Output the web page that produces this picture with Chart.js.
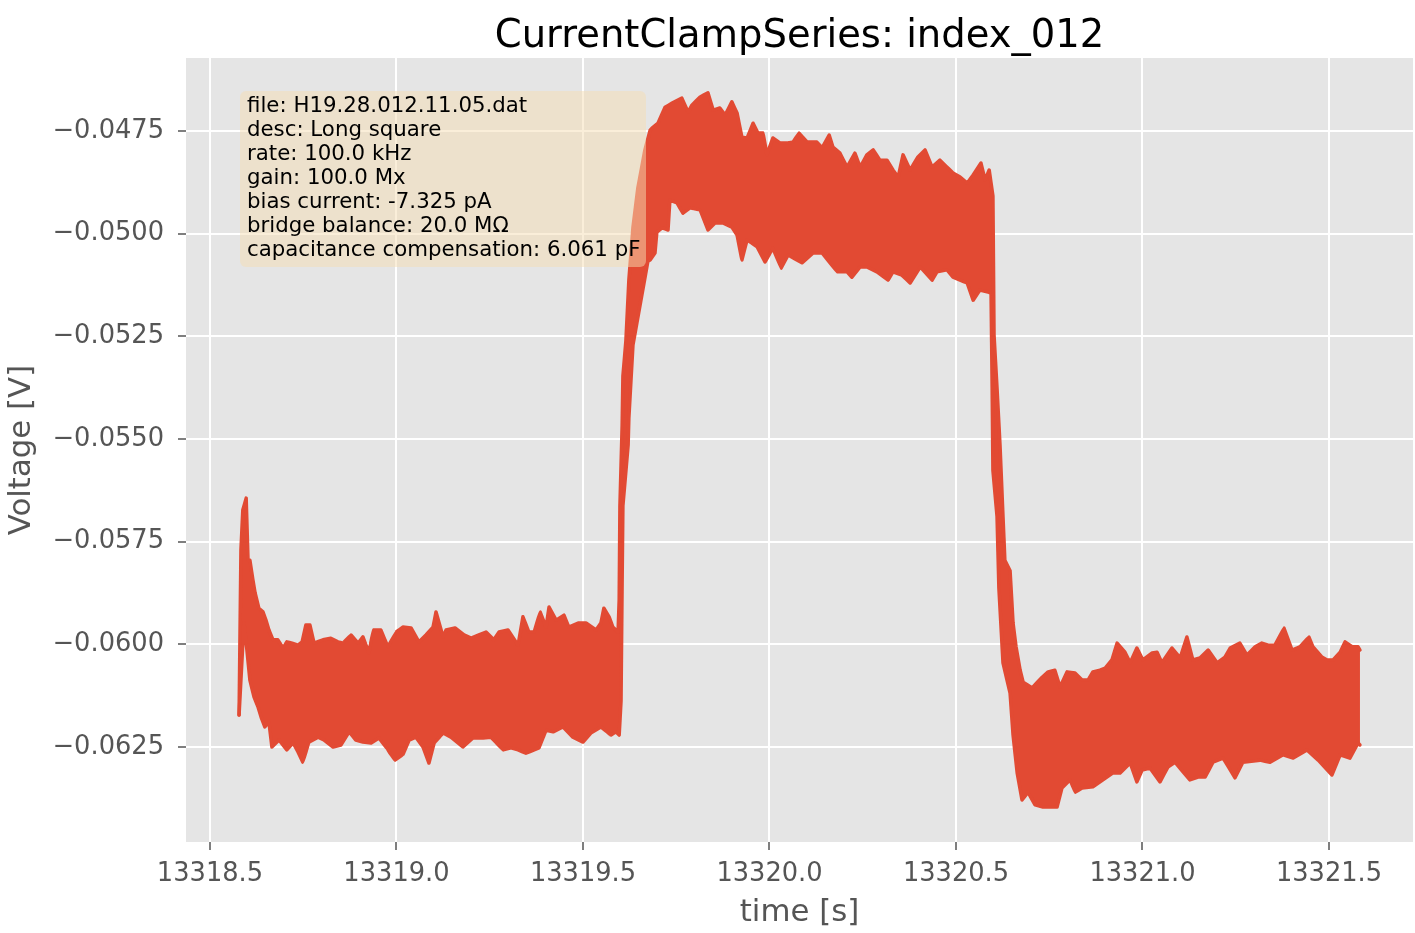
<!DOCTYPE html>
<html><head><meta charset="utf-8">
<script src="https://cdn.jsdelivr.net/npm/chart.js@4.4.1/dist/chart.umd.min.js"></script>
<style>html,body{margin:0;padding:0;background:#fff;} #wrap{width:1415px;height:933px;}</style>
</head><body><div id="wrap"><canvas id="c" width="1415" height="933"></canvas></div>
<script>
const titleText = 'CurrentClampSeries: index_012';
const xAxisLabel = 'time [s]';
const yAxisLabel = 'Voltage [V]';
const xTickValues = [13318.5, 13319.0, 13319.5, 13320.0, 13320.5, 13321.0, 13321.5];
const yTickValues = [-0.0625, -0.0600, -0.0575, -0.0550, -0.0525, -0.0500, -0.0475];
const xLimits = [13318.4357, 13321.7252];
const yLimits = [-0.064813, -0.045722];
const infoLines = [
  'file: H19.28.012.11.05.dat',
  'desc: Long square',
  'rate: 100.0 kHz',
  'gain: 100.0 Mx',
  'bias current: -7.325 pA',
  'bridge balance: 20.0 M\u03A9',
  'capacitance compensation: 6.061 pF'
];

// upper envelope of the voltage trace (time in s, voltage in V)
const timeUpper = [
13318.578,13318.583,13318.588,13318.597,13318.602,13318.607,13318.615,13318.621,13318.631,13318.642,
13318.650,13318.658,13318.669,13318.682,13318.696,13318.706,13318.720,13318.736,13318.747,13318.757,
13318.768,13318.779,13318.803,13318.824,13318.843,13318.857,13318.878,13318.897,13318.910,13318.926,
13318.937,13318.958,13318.977,13318.999,13319.017,13319.039,13319.060,13319.079,13319.098,13319.106,
13319.125,13319.133,13319.157,13319.181,13319.200,13319.221,13319.240,13319.261,13319.275,13319.299,
13319.326,13319.339,13319.355,13319.369,13319.385,13319.401,13319.409,13319.428,13319.449,13319.462,
13319.487,13319.508,13319.535,13319.548,13319.556,13319.570,13319.580,13319.594,
13319.597,13319.599,13319.605,13319.607,13319.615,13319.623,13319.634,13319.647,13319.666,13319.680,
13319.685,13319.701,13319.720,13319.739,13319.765,13319.782,13319.792,13319.814,13319.835,13319.849,
13319.867,13319.881,13319.899,13319.913,13319.926,13319.940,13319.956,13319.969,13319.983,13319.993,
13320.009,13320.028,13320.050,13320.063,13320.079,13320.101,13320.127,13320.141,13320.160,13320.170,
13320.189,13320.208,13320.229,13320.243,13320.261,13320.278,13320.296,13320.315,13320.331,13320.345,
13320.358,13320.377,13320.398,13320.417,13320.436,13320.457,13320.476,13320.492,13320.511,13320.530,
13320.546,13320.567,13320.578,13320.589,
13320.599,13320.602,13320.610,13320.618,13320.626,13320.631,13320.645,13320.653,13320.661,13320.672,
13320.680,13320.704,13320.731,13320.747,13320.765,13320.779,13320.798,13320.819,13320.838,13320.854,
13320.867,13320.886,13320.900,13320.918,13320.932,13320.953,13320.967,13320.985,13321.001,13321.026,
13321.039,13321.052,13321.079,13321.101,13321.119,13321.135,13321.154,13321.176,13321.200,13321.221,
13321.235,13321.261,13321.280,13321.302,13321.320,13321.337,13321.355,13321.379,13321.401,13321.422,
13321.446,13321.457,13321.481,13321.495,13321.511,13321.530,13321.543,13321.562,13321.578,13321.583
];
const voltUpper = [
-0.06172,-0.05770,-0.05673,-0.05644,-0.05795,-0.05795,-0.05843,-0.05875,-0.05912,-0.05921,
-0.05941,-0.05965,-0.05989,-0.05989,-0.06009,-0.05994,-0.05997,-0.06002,-0.05994,-0.05953,
-0.05953,-0.05997,-0.05989,-0.05985,-0.05994,-0.05997,-0.05977,-0.05997,-0.05982,-0.06021,
-0.05965,-0.05965,-0.06006,-0.05970,-0.05958,-0.05960,-0.05994,-0.05977,-0.05958,-0.05921,
-0.05982,-0.05965,-0.05960,-0.05977,-0.05985,-0.05977,-0.05970,-0.05989,-0.05970,-0.05965,
-0.06002,-0.05933,-0.05970,-0.05970,-0.05921,-0.05958,-0.05909,-0.05941,-0.05929,-0.05958,
-0.05948,-0.05948,-0.05965,-0.05948,-0.05912,-0.05933,-0.05958,-0.05970,
-0.05892,-0.05663,-0.05466,-0.05347,-0.05261,-0.05113,-0.04984,-0.04889,-0.04796,-0.04748,
-0.04743,-0.04731,-0.04692,-0.04682,-0.04670,-0.04704,-0.04687,-0.04667,-0.04657,-0.04699,
-0.04694,-0.04711,-0.04679,-0.04706,-0.04765,-0.04767,-0.04731,-0.04755,-0.04755,-0.04808,
-0.04767,-0.04779,-0.04779,-0.04777,-0.04755,-0.04777,-0.04777,-0.04791,-0.04760,-0.04789,
-0.04804,-0.04838,-0.04804,-0.04838,-0.04808,-0.04796,-0.04821,-0.04821,-0.04845,-0.04862,
-0.04808,-0.04845,-0.04813,-0.04796,-0.04838,-0.04821,-0.04838,-0.04852,-0.04862,-0.04877,
-0.04857,-0.04828,-0.04869,-0.04845,
-0.04908,-0.05247,-0.05376,-0.05515,-0.05688,-0.05795,-0.05821,-0.05948,-0.06006,-0.06063,
-0.06092,-0.06106,-0.06080,-0.06067,-0.06063,-0.06104,-0.06067,-0.06070,-0.06087,-0.06087,
-0.06067,-0.06063,-0.06058,-0.06038,-0.05997,-0.06019,-0.06045,-0.06009,-0.06038,-0.06021,
-0.06019,-0.06045,-0.06009,-0.06033,-0.05982,-0.06038,-0.06033,-0.06014,-0.06045,-0.06031,
-0.06009,-0.05997,-0.06026,-0.06006,-0.05997,-0.06002,-0.06002,-0.05960,-0.06014,-0.06006,
-0.05982,-0.06006,-0.06031,-0.06038,-0.06038,-0.06019,-0.05994,-0.06006,-0.06006,-0.06014
];

// lower envelope of the voltage trace
const timeLower = [
13318.578,13318.591,13318.599,13318.607,13318.618,13318.629,13318.637,13318.647,13318.658,13318.666,
13318.685,13318.706,13318.723,13318.736,13318.749,13318.765,13318.790,13318.806,13318.830,13318.851,
13318.873,13318.891,13318.910,13318.932,13318.953,13318.977,13318.996,13319.017,13319.034,13319.052,
13319.071,13319.087,13319.101,13319.125,13319.146,13319.178,13319.205,13319.232,13319.253,13319.286,
13319.307,13319.326,13319.347,13319.369,13319.382,13319.401,13319.420,13319.446,13319.473,13319.500,
13319.521,13319.548,13319.575,13319.588,
13319.597,13319.602,13319.605,13319.607,13319.621,13319.623,13319.634,13319.656,13319.674,
13319.680,13319.693,13319.698,13319.712,13319.728,13319.733,13319.752,13319.768,13319.787,13319.814,
13319.835,13319.854,13319.875,13319.899,13319.913,13319.926,13319.940,13319.967,13319.988,13320.009,
13320.031,13320.050,13320.087,13320.117,13320.141,13320.181,13320.208,13320.221,13320.243,13320.261,
13320.288,13320.318,13320.331,13320.355,13320.377,13320.404,13320.436,13320.449,13320.476,13320.492,
13320.511,13320.530,13320.546,13320.564,13320.586,
13320.594,13320.597,13320.599,13320.610,13320.615,13320.626,13320.645,13320.653,13320.664,
13320.677,13320.693,13320.712,13320.733,13320.771,13320.784,13320.806,13320.819,13320.838,13320.867,
13320.894,13320.921,13320.940,13320.967,13320.985,13320.999,13321.020,13321.047,13321.068,13321.087,
13321.127,13321.149,13321.168,13321.189,13321.216,13321.248,13321.269,13321.315,13321.342,13321.377,
13321.404,13321.441,13321.471,13321.508,13321.530,13321.556,13321.578,13321.583
];
const voltLower = [
-0.06172,-0.05948,-0.06014,-0.06087,-0.06128,-0.06153,-0.06177,-0.06201,-0.06189,-0.06250,
-0.06233,-0.06257,-0.06240,-0.06262,-0.06287,-0.06238,-0.06226,-0.06233,-0.06250,-0.06245,
-0.06213,-0.06233,-0.06238,-0.06240,-0.06228,-0.06257,-0.06282,-0.06269,-0.06233,-0.06226,
-0.06250,-0.06289,-0.06240,-0.06216,-0.06226,-0.06250,-0.06228,-0.06228,-0.06226,-0.06257,
-0.06252,-0.06257,-0.06265,-0.06257,-0.06252,-0.06209,-0.06213,-0.06201,-0.06226,-0.06238,
-0.06216,-0.06201,-0.06221,-0.06213,
-0.06221,-0.06138,-0.05841,-0.05663,-0.05515,-0.05449,-0.05271,-0.05159,-0.05067,
-0.05064,-0.05047,-0.04996,-0.04986,-0.04991,-0.04918,-0.04925,-0.04950,-0.04937,-0.04942,
-0.04991,-0.04974,-0.04974,-0.04984,-0.05003,-0.05064,-0.05015,-0.05032,-0.05069,-0.05035,
-0.05084,-0.05052,-0.05071,-0.05047,-0.05047,-0.05093,-0.05093,-0.05106,-0.05081,-0.05081,
-0.05093,-0.05113,-0.05093,-0.05101,-0.05120,-0.05081,-0.05113,-0.05093,-0.05088,-0.05106,
-0.05113,-0.05120,-0.05162,-0.05137,-0.05142,
-0.05145,-0.05381,-0.05576,-0.05688,-0.05863,-0.06045,-0.06119,-0.06221,-0.06313,
-0.06379,-0.06360,-0.06391,-0.06396,-0.06396,-0.06350,-0.06330,-0.06360,-0.06350,-0.06347,
-0.06330,-0.06313,-0.06313,-0.06289,-0.06335,-0.06306,-0.06301,-0.06335,-0.06299,-0.06287,
-0.06330,-0.06323,-0.06323,-0.06287,-0.06277,-0.06325,-0.06287,-0.06282,-0.06287,-0.06269,
-0.06277,-0.06257,-0.06282,-0.06318,-0.06269,-0.06277,-0.06240,-0.06245
];

const FONT = '"DejaVu Sans", sans-serif';
const LINE = '#E24A33';

const bgPlugin = {
  id: 'bg',
  beforeDraw(chart) {
    const {ctx, chartArea: a} = chart;
    ctx.save();
    ctx.fillStyle = '#ffffff';
    ctx.fillRect(0, 0, chart.width, chart.height);
    ctx.fillStyle = '#E5E5E5';
    ctx.fillRect(a.left, a.top, a.right - a.left, a.bottom - a.top);
    ctx.restore();
  }
};

// axes title, centred over the plotting area (as in the matplotlib figure)
const axesTitlePlugin = {
  id: 'axesTitle',
  afterDraw(chart) {
    const {ctx, chartArea: a} = chart;
    ctx.save();
    ctx.fillStyle = '#000';
    ctx.font = '38.5px ' + FONT;
    ctx.textAlign = 'center';
    ctx.textBaseline = 'alphabetic';
    ctx.fillText(titleText, (a.left + a.right) / 2, a.top - 11);
    ctx.restore();
  }
};

const infoPlugin = {
  id: 'info',
  afterDatasetsDraw(chart) {
    const {ctx, chartArea: a} = chart;
    const x = a.left + 54, y = a.top + 33, w = 406, h = 176, r = 6;
    ctx.save();
    ctx.beginPath();
    ctx.moveTo(x + r, y);
    ctx.lineTo(x + w - r, y); ctx.arcTo(x + w, y, x + w, y + r, r);
    ctx.lineTo(x + w, y + h - r); ctx.arcTo(x + w, y + h, x + w - r, y + h, r);
    ctx.lineTo(x + r, y + h); ctx.arcTo(x, y + h, x, y + h - r, r);
    ctx.lineTo(x, y + r); ctx.arcTo(x, y, x + r, y, r);
    ctx.closePath();
    ctx.fillStyle = 'rgba(245,222,179,0.5)';
    ctx.fill();
    ctx.fillStyle = '#000';
    ctx.font = '21.3px ' + FONT;
    ctx.textBaseline = 'alphabetic';
    ctx.textAlign = 'left';
    infoLines.forEach((t, i) => ctx.fillText(t, x + 7, y + 20.7 + i * 24.05));
    ctx.restore();
  }
};

new Chart(document.getElementById('c'), {
  type: 'line',
  data: {
    datasets: [
      {
        label: 'upper',
        data: timeUpper.map((t, i) => ({x: t, y: voltUpper[i]})),
        borderColor: LINE, backgroundColor: LINE, borderWidth: 3.5,
        pointRadius: 0, tension: 0.000001, fill: false,
        borderJoinStyle: 'round', borderCapStyle: 'round'
      },
      {
        label: 'lower',
        data: timeLower.map((t, i) => ({x: t, y: voltLower[i]})),
        borderColor: LINE, backgroundColor: LINE, borderWidth: 3.5,
        pointRadius: 0, tension: 0.000001, fill: '-1',
        borderJoinStyle: 'round', borderCapStyle: 'round'
      }
    ]
  },
  options: {
    responsive: false, animation: false, devicePixelRatio: 1,
    layout: {padding: {left: 0, right: 2, top: 58, bottom: 0}},
    plugins: {
      legend: {display: false}, tooltip: {enabled: false}, title: {display: false}
    },
    scales: {
      x: {
        type: 'linear', min: xLimits[0], max: xLimits[1],
        afterBuildTicks: s => { s.ticks = xTickValues.map(v => ({value: v})); },
        afterFit: s => { s.height = 91; },
        ticks: {callback: v => Number(v).toFixed(1), color: '#555', font: {family: FONT, size: 25.7},
          padding: 8.5, maxRotation: 0, autoSkip: false},
        grid: {color: '#ffffff', lineWidth: 2, tickColor: '#555', tickLength: 8, tickWidth: 1.5},
        border: {display: false},
        title: {display: true, text: xAxisLabel, color: '#555', font: {family: FONT, size: 30.8}, padding: {top: 0, bottom: 1.5}}
      },
      y: {
        type: 'linear', min: yLimits[0], max: yLimits[1],
        afterBuildTicks: s => { s.ticks = yTickValues.map(v => ({value: v})); },
        afterFit: s => { s.width = 186; },
        ticks: {callback: v => (v < 0 ? '\u2212' : '') + Math.abs(v).toFixed(4), color: '#555',
          font: {family: FONT, size: 25.7}, padding: 14, autoSkip: false},
        grid: {color: '#ffffff', lineWidth: 2, tickColor: '#555', tickLength: 8, tickWidth: 1.5},
        border: {display: false},
        title: {display: true, text: yAxisLabel, color: '#555', font: {family: FONT, size: 30.8}, padding: {top: 4, bottom: 0}}
      }
    }
  },
  plugins: [bgPlugin, axesTitlePlugin, infoPlugin]
});
</script>
</body></html>
